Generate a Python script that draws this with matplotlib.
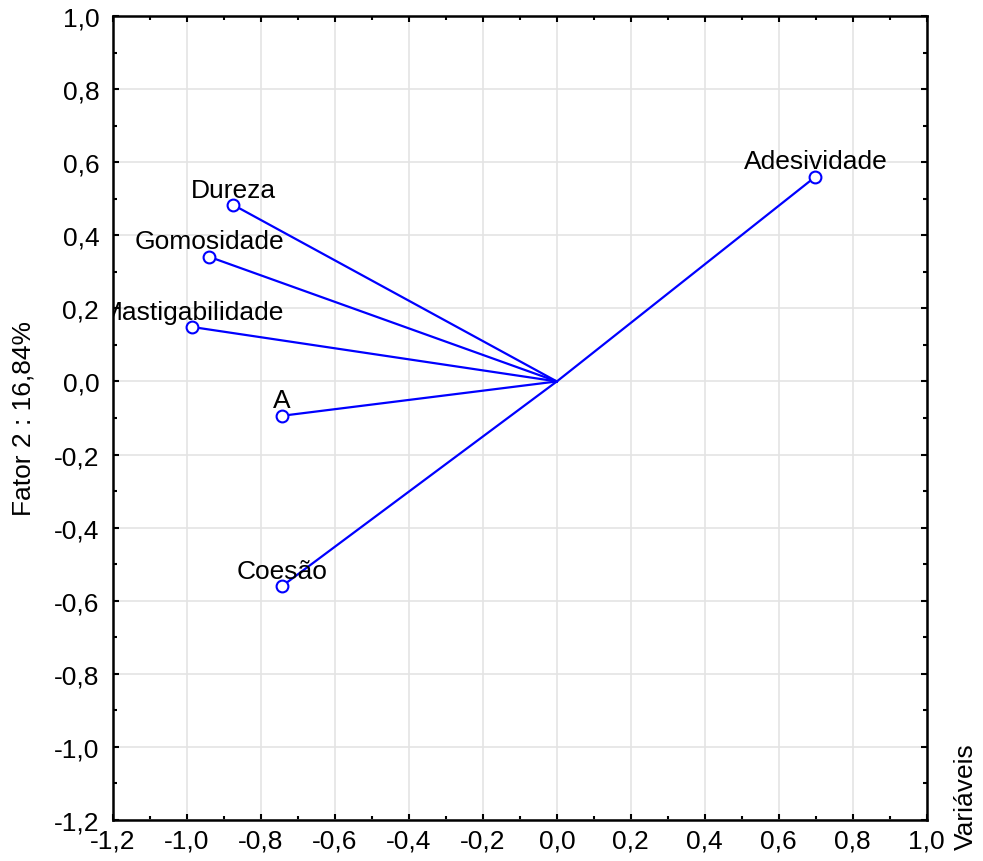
import matplotlib.pyplot as plt
from matplotlib.ticker import MultipleLocator, FuncFormatter
from matplotlib.transforms import offset_copy

# -------- DATA (factor loadings) --------
variables = ["Adesividade", "Dureza", "Gomosidade", "Mastigabilidade", "A", "Coesão"]
fator1 = [0.699, -0.875, -0.940, -0.986, -0.743, -0.743]
fator2 = [0.560, 0.483, 0.341, 0.149, -0.094, -0.560]

ylabel = "Fator 2 : 16,84%"
side_label = "Variáveis"

# -------- STYLE --------
plt.rcParams['font.family'] = ['Liberation Sans', 'DejaVu Sans']
FS = 19

fig = plt.figure(figsize=(9.83, 8.62), dpi=100)
ax = fig.add_axes([0.115, 0.0476, 0.8277, 0.9327])

# labels sit a few points above each marker
label_tr = offset_copy(ax.transData, fig=fig, x=0, y=6, units='points')

# vectors from the origin
for x, y, name in zip(fator1, fator2, variables):
    ax.plot([0, x], [0, y], color='#0000ff', linewidth=1.6, zorder=3)
    ax.plot(x, y, 'o', markerfacecolor='white', markeredgecolor='#0000ff',
            markersize=8.5, markeredgewidth=1.5, zorder=4)
    ax.text(x, y, name, ha='center', va='baseline', fontsize=FS, zorder=5,
            transform=label_tr, clip_on=True)

ax.set_xlim(-1.2, 1.0)
ax.set_ylim(-1.2, 1.0)

ax.xaxis.set_major_locator(MultipleLocator(0.2))
ax.yaxis.set_major_locator(MultipleLocator(0.2))
ax.xaxis.set_minor_locator(MultipleLocator(0.1))
ax.yaxis.set_minor_locator(MultipleLocator(0.1))

fmt = FuncFormatter(lambda v, pos: f"{v:.1f}".replace('.', ',').replace('-0,0', '0,0'))
ax.xaxis.set_major_formatter(fmt)
ax.yaxis.set_major_formatter(fmt)

ax.tick_params(which='both', direction='in', top=True, right=True, width=1.5)
ax.tick_params(which='major', length=4, labelsize=FS)
ax.tick_params(which='minor', length=3)
ax.tick_params(axis='x', which='major', pad=6)
ax.tick_params(axis='y', which='major', pad=10)

ax.grid(True, which='major', color='#e4e4e4', linewidth=1.2, zorder=0)
ax.set_axisbelow(True)
for sp in ax.spines.values():
    sp.set_linewidth(1.8)

ax.set_ylabel(ylabel, fontsize=FS)
ax.yaxis.set_label_coords(-0.095, 0.5)

fig.text(0.983, 0.076, side_label, rotation=90, ha='center', va='center', fontsize=FS)

plt.savefig("out.png", dpi=100)
